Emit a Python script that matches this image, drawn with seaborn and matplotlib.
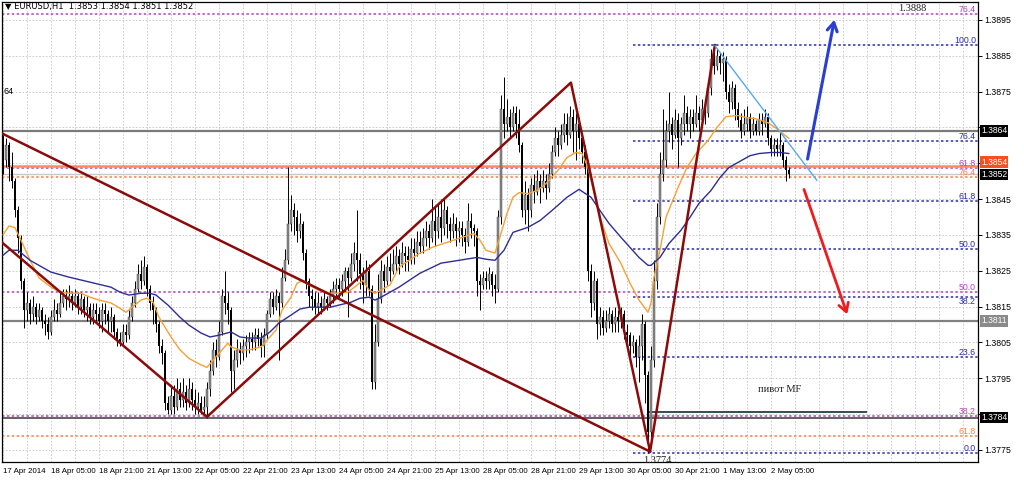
import numpy as np
import matplotlib
matplotlib.use('Agg')
import matplotlib.pyplot as plt
import matplotlib.transforms as mtransforms
import seaborn as sns

# prices are kept as pips above BASE (EURUSD, H1)
BASE = 1.3770

time_labels = ["17 Apr 2014", "18 Apr 05:00", "18 Apr 21:00", "21 Apr 13:00", "22 Apr 05:00",
               "22 Apr 21:00", "23 Apr 13:00", "24 Apr 05:00", "24 Apr 21:00", "25 Apr 13:00",
               "28 Apr 05:00", "28 Apr 21:00", "29 Apr 13:00", "30 Apr 05:00", "30 Apr 21:00",
               "1 May 13:00", "2 May 05:00"]

opens = [88, 86, 90, 84, 80, 72, 64, 52, 44, 46,
         43, 45, 42, 44, 41, 40, 38, 42, 44, 43,
         46, 48, 47, 48, 46, 48, 45, 47, 44, 45,
         42, 44, 43, 41, 44, 43, 41, 42, 38, 36,
         35, 38, 37, 42, 46, 50, 54, 52, 56, 50,
         46, 44, 40, 34, 32, 18, 16, 20, 17, 22,
         19, 21, 18, 22, 19, 17, 18, 16, 17, 22,
         27, 33, 31, 38, 48, 46, 44, 27, 30, 33,
         32, 34, 35, 36, 35, 37, 36, 34, 37, 43,
         47, 45, 48, 46, 53, 58, 68, 72, 70, 66,
         68, 60, 52, 48, 47, 45, 46, 45, 47, 46,
         48, 50, 51, 50, 52, 55, 53, 57, 60, 58,
         54, 51, 55, 50, 24, 35, 47, 55, 52, 56,
         55, 57, 59, 57, 60, 59, 58, 61, 60, 63,
         62, 64, 66, 64, 69, 66, 70, 67, 72, 68,
         66, 68, 66, 67, 65, 63, 69, 67, 66, 52,
         51, 53, 52, 54, 51, 50, 70, 100, 96, 98,
         95, 99, 96, 90, 72, 76, 72, 79, 77, 80,
         78, 80, 78, 82, 88, 92, 90, 93, 96, 93,
         98, 94, 96, 92, 88, 84, 55, 46, 52, 40,
         42, 39, 41, 43, 40, 42, 41, 43, 38, 37,
         34, 35, 31, 34, 40, 26, 10, 30, 52, 70,
         82, 86, 94, 96, 93, 97, 92, 96, 99, 96,
         98, 96, 99, 97, 100, 99, 106, 114, 112, 115,
         113, 114, 105, 102, 106, 100, 97, 94, 96, 98,
         94, 96, 94, 97, 96, 98, 92, 89, 90, 89,
         90, 86, 83]

highs = [93, 92, 91, 88, 81, 73, 65, 53, 49, 47,
         48, 46, 46, 45, 43, 42, 44, 47, 46, 49,
         50, 50, 51, 49, 50, 49, 49, 48, 48, 46,
         46, 46, 45, 46, 46, 44, 45, 43, 39, 38,
         40, 40, 44, 48, 52, 57, 58, 59, 57, 51,
         48, 45, 41, 36, 33, 20, 23, 23, 25, 24,
         25, 23, 25, 24, 22, 21, 20, 20, 24, 30,
         35, 36, 41, 50, 55, 49, 45, 33, 36, 35,
         36, 37, 38, 38, 39, 39, 38, 39, 44, 49,
         49, 50, 49, 56, 61, 84, 76, 74, 72, 71,
         69, 61, 53, 50, 49, 49, 48, 49, 48, 50,
         52, 53, 53, 54, 56, 56, 60, 63, 72, 60,
         56, 58, 57, 51, 40, 54, 58, 57, 59, 60,
         61, 62, 61, 63, 62, 62, 64, 64, 66, 66,
         67, 69, 68, 75, 73, 74, 75, 75, 73, 70,
         71, 70, 69, 69, 67, 74, 71, 68, 67, 54,
         55, 55, 56, 55, 54, 72, 104, 109, 103, 100,
         101, 101, 100, 91, 80, 78, 81, 82, 83, 82,
         83, 82, 85, 90, 95, 94, 96, 99, 99, 101,
         100, 99, 98, 93, 90, 85, 57, 55, 53, 45,
         44, 44, 45, 44, 45, 44, 45, 44, 40, 38,
         37, 36, 37, 43, 41, 27, 34, 58, 74, 88,
         100, 97, 105, 98, 100, 99, 98, 104, 101, 100,
         100, 104, 101, 103, 103, 108, 117, 118, 117, 116,
         116, 115, 107, 108, 107, 102, 99, 100, 101, 99,
         98, 97, 99, 99, 100, 99, 93, 92, 92, 94,
         91, 87, 84]

lows = [82, 84, 80, 78, 70, 60, 50, 39, 41, 40,
        41, 40, 41, 39, 37, 36, 37, 41, 41, 42,
        45, 44, 45, 44, 45, 43, 43, 42, 41, 40,
        40, 41, 39, 38, 40, 38, 38, 36, 34, 34,
        34, 35, 36, 41, 45, 49, 50, 51, 48, 44,
        40, 38, 32, 29, 16, 15, 15, 15, 16, 17,
        17, 16, 17, 16, 15, 15, 15, 15, 14, 20,
        26, 28, 30, 37, 43, 40, 21, 22, 28, 29,
        30, 31, 32, 33, 33, 34, 31, 31, 36, 42,
        43, 44, 30, 45, 52, 57, 66, 65, 63, 64,
        58, 50, 45, 44, 43, 43, 43, 44, 44, 45,
        46, 48, 47, 48, 49, 42, 52, 55, 52, 50,
        46, 48, 48, 22, 22, 34, 46, 49, 51, 52,
        54, 55, 54, 56, 55, 55, 57, 57, 59, 60,
        60, 62, 61, 63, 62, 64, 63, 65, 64, 63,
        64, 62, 63, 62, 60, 62, 64, 62, 48, 44,
        50, 50, 50, 48, 46, 49, 68, 92, 94, 92,
        94, 92, 88, 70, 68, 66, 70, 74, 76, 74,
        77, 75, 77, 81, 87, 87, 89, 91, 90, 92,
        88, 86, 89, 85, 82, 52, 42, 44, 36, 37,
        37, 38, 39, 38, 38, 38, 39, 36, 34, 31,
        32, 28, 24, 30, 18, 4, 8, 28, 50, 68,
        80, 84, 91, 89, 92, 84, 90, 93, 94, 92,
        94, 95, 94, 95, 96, 98, 104, 110, 111, 110,
        108, 103, 99, 100, 97, 95, 92, 93, 94, 92,
        93, 93, 93, 93, 95, 90, 87, 87, 87, 87,
        84, 80, 81]

closes = [86, 90, 84, 80, 72, 64, 52, 44, 46, 43,
          45, 42, 44, 41, 40, 38, 42, 44, 43, 46,
          48, 47, 48, 46, 48, 45, 47, 44, 45, 42,
          44, 43, 41, 44, 43, 41, 42, 38, 36, 35,
          38, 37, 42, 46, 50, 54, 52, 56, 50, 46,
          44, 40, 34, 32, 18, 16, 20, 17, 22, 19,
          21, 18, 22, 19, 17, 18, 16, 17, 22, 27,
          33, 31, 38, 48, 46, 44, 27, 30, 33, 32,
          34, 35, 36, 35, 37, 36, 34, 37, 43, 47,
          45, 48, 46, 53, 58, 68, 72, 70, 66, 68,
          60, 52, 48, 47, 45, 46, 45, 47, 46, 48,
          50, 51, 50, 52, 55, 53, 57, 60, 58, 54,
          51, 55, 50, 24, 35, 47, 55, 52, 56, 55,
          57, 59, 57, 60, 59, 58, 61, 60, 63, 62,
          64, 66, 64, 69, 66, 70, 67, 72, 68, 66,
          68, 66, 67, 65, 63, 69, 67, 66, 52, 51,
          53, 52, 54, 51, 50, 70, 100, 96, 98, 95,
          99, 96, 90, 72, 76, 72, 79, 77, 80, 78,
          80, 78, 82, 88, 92, 90, 93, 96, 93, 98,
          94, 96, 92, 88, 84, 55, 46, 52, 40, 42,
          39, 41, 43, 40, 42, 41, 43, 38, 37, 34,
          35, 31, 34, 40, 26, 10, 30, 52, 70, 82,
          86, 94, 96, 93, 97, 92, 96, 99, 96, 98,
          96, 99, 97, 100, 99, 106, 114, 112, 115, 113,
          114, 105, 102, 106, 100, 97, 94, 96, 98, 94,
          96, 94, 97, 96, 98, 92, 89, 90, 89, 90,
          86, 83, 82]

# moving averages (bar index, pips)
fast_ma_bars = [0, 2, 4, 6, 9, 12, 16, 19, 22, 26, 29, 32, 36, 39, 41, 43, 46, 48, 50, 52,
                56, 59, 62, 66, 68, 71, 75, 76, 79, 82, 86, 88, 91, 93, 96, 98, 100, 101, 105, 108,
                111, 115, 118, 120, 122, 124, 126, 129, 132, 139, 143, 148, 152, 157, 159, 161, 164, 166, 168, 170,
                172, 175, 178, 181, 185, 188, 191, 193, 195, 196, 199, 202, 206, 209, 212, 215, 216, 217, 219, 221,
                225, 228, 231, 235, 238, 241, 245, 248, 251, 255, 258, 262]
fast_ma_pips = [65, 67.5, 67, 63.5, 58, 53, 50.4, 49, 48.7, 48.7, 47.6, 46.8, 46, 44.5, 43.4, 44.8, 46.8, 47.3, 46.2, 42,
                36.5, 32.9, 30.5, 28.7, 28, 31, 34.8, 33.7, 32.9, 32.9, 33.7, 35.6, 38.4, 44, 47.6, 51.5, 52.3, 51.5, 49.6, 48.7,
                48.7, 49, 51, 52.3, 49.6, 48.7, 49.6, 51, 56, 59.9, 61.5, 62.9, 64, 65.4, 63.5, 60.7, 59.9, 65.4, 71, 75.5,
                76.8, 76.5, 77.4, 79.3, 83, 86.6, 88, 87.7, 83.8, 80.2, 69.9, 62.6, 57, 51.5, 46.8, 43.4, 46, 53.2, 60.7, 69.9,
                78.2, 83.8, 87.7, 91.3, 95, 98, 98.3, 97.7, 97.4, 96.3, 94.6, 91.9]

slow_ma_bars = [0, 2, 5, 9, 16, 22, 29, 36, 39, 42, 46, 49, 51, 55, 59, 62, 66, 69, 72, 76,
                79, 82, 86, 89, 92, 96, 99, 102, 106, 109, 112, 116, 119, 122, 124, 126, 132, 139, 146, 152,
                158, 161, 164, 167, 170, 175, 179, 183, 188, 192, 196, 199, 202, 206, 209, 212, 215, 216, 219, 222,
                226, 229, 232, 236, 239, 242, 246, 249, 252, 256, 259, 262]
slow_ma_pips = [59.3, 60.7, 60.7, 57.9, 54.6, 53.2, 51.8, 50.4, 49, 48.2, 48.7, 48.7, 48.2, 45.4, 42, 39.8, 37.6, 36.5, 37, 37.9,
                36.5, 36.2, 36.2, 37.9, 40.4, 42.6, 44.3, 44.8, 44.8, 44.8, 45.4, 46.2, 47.3, 47.6, 46.8, 47.6, 50.4, 54.3, 57.1, 57.9,
                58.7, 58.2, 57.9, 60.7, 65.7, 67.1, 69, 71.8, 75.5, 77.7, 75.5, 71.8, 68.2, 64.3, 61.5, 58.7, 56.5, 56.5, 58.7, 62.6,
                66.3, 69.9, 73.8, 77.4, 81, 83.8, 85.7, 87.1, 87.7, 88, 88, 87.7]

# zigzag / trend lines (bar index, pips)
zz_long_bars = [-0.3, 215.7]
zz_long_pips = [93.3, 4.5]
zz_lower_bars = [-5, 68]
zz_lower_pips = [66.2, 14.2]
zz_main_bars = [68, 189.3, 215.7, 237.3]
zz_main_pips = [14.2, 107.5, 4.5, 118]
tl_bars = [237.3, 271.3]
tl_pips = [117.8, 80.2]

# fibo sets: (0% price, 100% price), levels
fib_blue = (1.3774, 1.3888)
fib_blue_levels = [0.0, 23.6, 38.2, 50.0, 61.8, 76.4, 100.0]
fib_purple = (1.3672, 1.3966)
fib_purple_levels = [38.2, 50.0, 61.8, 76.4]
fib_orange = (1.3473, 1.3968)
fib_orange_levels = [61.8, 76.4]

h_lines = [1.3864, 1.3811, 1.3784]
ask_line = 1.38543
bid_line = 1.3852
pivot_mf = 1.37856

# right-axis price boxes: label, price, face colour
box_labels = ['1.3864', '1.3854', '1.3852', '1.3811', '1.3784']
box_prices = [1.3864, 1.38553, 1.38518, 1.3811, 1.3784]
box_colors = ['black', '#f4511e', 'black', '#8a8a8a', 'black']


def to_price(v):
    return BASE + np.asarray(v, dtype=float) / 10000.0


sns.set_theme(style='white')
plt.rcParams['font.family'] = ['Liberation Sans', 'DejaVu Sans']

fig = plt.figure(figsize=(10.24, 4.82), dpi=100)
ax = fig.add_axes([2 / 1024, 20 / 482, 976 / 1024, 460 / 482])
ax.set_facecolor('white')
ax.set_xlim(-0.33, 325.0)
ax.set_ylim(float(to_price(1.6)), float(to_price(130.0)))

# grid + axes
ax.set_xticks(np.arange(0, 16 * len(time_labels), 16))
ax.set_xticklabels(time_labels, fontsize=5.7, ha='left')
ax.set_xticks(np.arange(8, 325, 8), minor=True)
yt = np.round(np.arange(1.3775, 1.38951, 0.001), 4)
ax.set_yticks(yt)
# labels sitting under a price box are hidden by it
hidden = {'1.3865', '1.3855', '1.3785'}
ax.set_yticklabels(['' if f'{v:.4f}' in hidden else f'{v:.4f}' for v in yt], fontsize=6.3)
ax.yaxis.tick_right()
ax.tick_params(axis='both', which='major', length=3, width=0.7, color='black', pad=1.5, labelcolor='black')
ax.tick_params(axis='x', which='minor', length=0)
ax.grid(True, which='both', color='#c4c4c4', linestyle=(0, (2, 2)), linewidth=0.6)
ax.set_axisbelow(True)
for sp in ax.spines.values():
    sp.set_color('black')
    sp.set_linewidth(0.9)

full = ax.get_xlim()
# fibo levels
dots = (0, (1.6, 1.6))
for lv in fib_purple_levels:
    p = fib_purple[0] + lv / 100 * (fib_purple[1] - fib_purple[0])
    ax.hlines(p, full[0], full[1], colors='#b044b8', linestyles=dots, lw=1.1, zorder=2)
    ax.text(324.3, p, f'{lv:.1f}', color='#b044b8', fontsize=6.3, ha='right', va='bottom', zorder=6)
for lv in fib_orange_levels:
    p = fib_orange[0] + lv / 100 * (fib_orange[1] - fib_orange[0])
    ax.hlines(p, full[0], full[1], colors='#ff7a45', linestyles=dots, lw=1.1, zorder=2)
    ax.text(324.3, p, f'{lv:.1f}', color='#ff7a45', fontsize=6.3, ha='right', va='bottom', zorder=6)
for lv in fib_blue_levels:
    p = fib_blue[0] + lv / 100 * (fib_blue[1] - fib_blue[0])
    ax.hlines(p, 210, full[1], colors='#2b2bb0', linestyles=dots, lw=1.1, zorder=2)
    # 38.2 sits just under the purple 50.0 label, so put it below its line
    ax.text(324.3, p, f'{lv:.1f}', color='#2b2bb0', fontsize=6.3, ha='right',
            va='top' if lv == 38.2 else 'bottom', zorder=6)

# horizontal lines
ax.axhline(h_lines[0], color='#7a7a7a', lw=1.6, zorder=2)
ax.axhline(h_lines[1], color='#808080', lw=1.6, zorder=2)
ax.axhline(h_lines[2], color='#555555', lw=1.3, zorder=2)
ax.axhline(ask_line, color='#ff8a65', lw=1.8, zorder=2)
ax.axhline(bid_line, color='#c8c8c8', lw=1.0, zorder=2)
ax.hlines(pivot_mf, 215.3, 288, colors='#2f4f4f', lw=1.4, zorder=3)

# candles
idx = np.arange(len(closes))
o, h, l, c = to_price(opens), to_price(highs), to_price(lows), to_price(closes)
ax.vlines(idx, l, h, color='black', lw=0.7, zorder=4)
up = c >= o
ax.bar(idx[up], (c - o)[up], bottom=o[up], width=0.62, color='#8e8e8e',
       edgecolor='#3a3a3a', linewidth=0.3, zorder=5)
ax.bar(idx[~up], (o - c)[~up], bottom=c[~up], width=0.62, color='black', linewidth=0, zorder=5)

# moving averages
sns.lineplot(x=fast_ma_bars, y=to_price(fast_ma_pips), color='#f7a035', lw=1.0, ax=ax, zorder=6)
sns.lineplot(x=slow_ma_bars, y=to_price(slow_ma_pips), color='#2d2d96', lw=1.0, ax=ax, zorder=6)

# zigzag and trend line
zz_col = '#8b0a0a'
ax.plot(zz_long_bars, to_price(zz_long_pips), color=zz_col, lw=1.8, zorder=7)
ax.plot(zz_lower_bars, to_price(zz_lower_pips), color=zz_col, lw=1.8, zorder=7)
ax.plot(zz_main_bars, to_price(zz_main_pips), color=zz_col, lw=1.8, zorder=7)
ax.plot(tl_bars, to_price(tl_pips), color='#58a8f0', lw=1.0, zorder=7)

# forecast arrows
ax.annotate('', xy=(277.3, to_price(125.8)), xytext=(268, to_price(85.4)),
            arrowprops=dict(arrowstyle='->,head_length=0.5,head_width=0.3', color='#2a3fd0', lw=2.2), zorder=8)
ax.annotate('', xy=(281.7, to_price(42.1)), xytext=(266.7, to_price(78.4)),
            arrowprops=dict(arrowstyle='->,head_length=0.5,head_width=0.3', color='#ee1c1c', lw=2.0), zorder=8)

# texts
serif = ['Liberation Serif', 'DejaVu Serif']
ax.text(303, to_price(128.2), '1.3888', fontsize=7.5, family=serif, ha='center', va='center', color='#202020')
ax.text(218, to_price(2.0), '1.3774', fontsize=7.5, family=serif, ha='center', va='center', color='#202020',
        clip_on=False)
ax.text(259, to_price(21.7), 'пивот MF', fontsize=7.5, family=serif, ha='center', va='center', color='#202020')
ax.text(0.2, to_price(104.9), '64', fontsize=6.5, ha='left', va='center', color='black')
fig.text(5 / 1024, 1 - 7 / 482, '▼ EURUSD,H1  1.3853 1.3854 1.3851 1.3852', fontsize=6, ha='left', va='center',
         color='black', family=['DejaVu Sans'])

# price boxes on the right axis
trans = mtransforms.blended_transform_factory(ax.transAxes, ax.transData)
for txt, p, fc in zip(box_labels, box_prices, box_colors):
    ax.text(1.003, p, txt, transform=trans, fontsize=6.2, color='white', ha='left', va='center', clip_on=False,
            zorder=10, bbox=dict(boxstyle='square,pad=0.14', fc=fc, ec='none'))

fig.savefig('out.png', dpi=100, facecolor='white')
